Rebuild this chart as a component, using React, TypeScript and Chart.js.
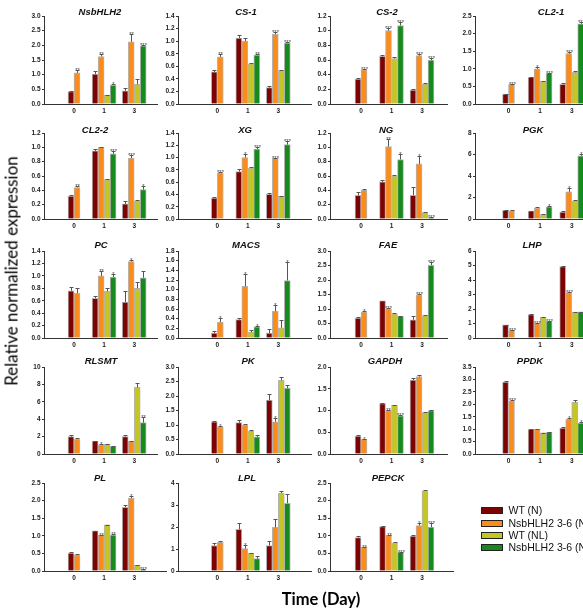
import React, { useEffect, useRef } from "react";
import { Chart, registerables } from "chart.js";

Chart.register(...registerables);

// ---------------- DATA ----------------
const DAYS = ["0", "1", "3"];
const GENES = [
  "NsbHLH2", "CS-1", "CS-2", "CL2-1",
  "CL2-2", "XG", "NG", "PGK",
  "PC", "MACS", "FAE", "LHP",
  "RLSMT", "PK", "GAPDH", "PPDK",
  "PL", "LPL", "PEPCK",
];
const SERIES = ["WT (N)", "NsbHLH2 3-6 (N)", "WT (NL)", "NsbHLH2 3-6 (NL)"];

const Y_MAX = [3, 1.4, 1.2, 2.5, 1.2, 1.4, 1.2, 8, 1.4, 1.8, 3, 6, 10, 3, 2, 3.5, 2.5, 4, 2.5];
const Y_STEP = [0.5, 0.2, 0.2, 0.5, 0.2, 0.2, 0.2, 2, 0.2, 0.2, 0.5, 1, 2, 0.5, 0.5, 0.5, 0.5, 1, 0.5];

// mean values per gene, days 0 / 1 / 3
const WT_N = [
  [0.42, 1.02, 0.45], [0.51, 1.05, 0.26], [0.34, 0.65, 0.19], [0.28, 0.76, 0.56],
  [0.32, 0.95, 0.21], [0.34, 0.77, 0.40], [0.33, 0.52, 0.33], [0.80, 0.74, 0.65],
  [0.76, 0.64, 0.58], [0.10, 0.38, 0.10], [0.69, 1.28, 0.63], [0.90, 1.62, 4.92],
  [2.0, 1.48, 2.0], [1.11, 1.08, 1.86], [0.41, 1.16, 1.70], [2.89, 0.99, 1.04],
  [0.51, 1.14, 1.81], [1.16, 1.89, 1.16], [0.95, 1.26, 0.99],
];
const NSB_N = [
  [1.06, 1.62, 2.12], [0.75, 1.00, 1.11], [0.47, 1.00, 0.66], [0.56, 1.00, 1.43],
  [0.44, 1.00, 0.85], [0.75, 1.00, 0.99], [0.40, 1.01, 0.77], [0.77, 1.02, 2.52],
  [0.72, 1.00, 1.23], [0.33, 1.07, 0.55], [0.89, 1.01, 1.49], [0.53, 1.02, 3.14],
  [1.70, 1.06, 1.45], [0.94, 1.00, 1.11], [0.34, 1.00, 1.78], [2.14, 0.99, 1.39],
  [0.46, 1.02, 2.07], [1.30, 1.02, 1.98], [0.68, 1.01, 1.29],
];
const WT_NL = [
  [null, 0.30, 0.67], [null, 0.64, 0.53], [null, 0.62, 0.27], [null, 0.65, 0.90],
  [null, 0.55, 0.25], [null, 0.83, 0.37], [null, 0.60, 0.09], [null, 0.40, 1.69],
  [null, 0.75, 0.80], [null, 0.12, 0.21], [null, 0.83, 0.77], [null, 1.43, 1.78],
  [null, 1.10, 7.65], [null, 0.78, 2.54], [null, 1.12, 0.95], [null, 0.85, 2.08],
  [null, 1.31, 0.16], [null, 0.82, 3.54], [null, 0.80, 2.28],
];
const NSB_NL = [
  [null, 0.64, 1.98], [null, 0.78, 0.97], [null, 1.07, 0.60], [null, 0.87, 2.28],
  [null, 0.91, 0.41], [null, 1.14, 1.21], [null, 0.83, 0.02], [null, 1.14, 5.88],
  [null, 0.98, 0.97], [null, 0.23, 1.19], [null, 0.75, 2.51], [null, 1.15, 1.80],
  [null, 0.87, 3.60], [null, 0.59, 2.27], [null, 0.88, 1.00], [null, 0.87, 1.24],
  [null, 1.02, 0.04], [null, 0.56, 3.08], [null, 0.54, 1.25],
];

// error bar (upper) sizes
const ERR_WT_N = [
  [0.02, 0.12, 0.10], [0.03, 0.04, 0.02], [0.01, 0.02, 0.01], [0.01, 0.01, 0.03],
  [0.01, 0.02, 0.04], [0.02, 0.04, 0.02], [0.05, 0.02, 0.11], [0.05, 0.03, 0.05],
  [0.06, 0.04, 0.18], [0.04, 0.04, 0.09], [0.03, 0.01, 0.12], [0.02, 0.05, 0.02],
  [0.15, 0.05, 0.2], [0.02, 0.08, 0.2], [0.02, 0.02, 0.05], [0.03, 0.02, 0.05],
  [0.03, 0.01, 0.07], [0.12, 0.3, 0.2], [0.05, 0.02, 0.04],
];
const ERR_NSB_N = [
  [0.1, 0.08, 0.28], [0.04, 0.05, 0.03], [0.01, 0.04, 0.02], [0.02, 0.06, 0.05],
  [0.02, 0.01, 0.05], [0.02, 0.06, 0.01], [0.02, 0.10, 0.11], [0.03, 0.12, 0.35],
  [0.09, 0.08, 0.02], [0.08, 0.26, 0.13], [0.05, 0.02, 0.03], [0.02, 0.02, 0.05],
  [0.1, 0.1, 0.05], [0.04, 0.02, 0.12], [0.01, 0.02, 0.03], [0.03, 0.03, 0.05],
  [0.01, 0.01, 0.07], [0.06, 0.17, 0.38], [0.01, 0.02, 0.06],
];
const ERR_WT_NL = [
  [0, 0.02, 0.17], [0, 0.02, 0.01], [0, 0.02, 0.01], [0, 0.01, 0.05],
  [0, 0.01, 0.01], [0, 0.01, 0.01], [0, 0.02, 0.01], [0, 0.03, 0.06],
  [0, 0.05, 0.1], [0, 0.04, 0.16], [0, 0.02, 0.01], [0, 0.03, 0.02],
  [0, 0.05, 0.5], [0, 0.04, 0.1], [0, 0.01, 0.01], [0, 0.01, 0.08],
  [0, 0.01, 0.01], [0, 0.02, 0.08], [0, 0.01, 0.03],
];
const ERR_NSB_NL = [
  [0, 0.05, 0.04], [0, 0.02, 0.01], [0, 0.05, 0.03], [0, 0.02, 0.05],
  [0, 0.04, 0.05], [0, 0.03, 0.06], [0, 0.08, 0.01], [0, 0.1, 0.2],
  [0, 0.05, 0.11], [0, 0.01, 0.39], [0, 0.02, 0.12], [0, 0.02, 0.02],
  [0, 0.03, 0.6], [0, 0.08, 0.12], [0, 0.01, 0.01], [0, 0.02, 0.05],
  [0, 0.02, 0.01], [0, 0.1, 0.4], [0, 0.01, 0.1],
];

// significance marks
const SIG_NSB_N = [
  ["**", "**", "**"], ["**", "", "***"], ["***", "***", "***"], ["***", "*", "***"],
  ["**", "", "***"], ["***", "*", "***"], ["", "**", "*"], ["", "", "*"],
  ["", "**", "*"], ["*", "*", "*"], ["*", "***", "***"], ["***", "***", "***"],
  ["", "*", ""], ["*", "", "*"], ["*", "**", ""], ["***", "", "*"],
  ["", "**", "*"], ["", "*", ""], ["**", "**", "*"],
];
const SIG_NSB_NL = [
  ["", "*", "***"], ["", "**", "***"], ["", "***", "***"], ["", "***", "***"],
  ["", "***", "*"], ["", "***", "***"], ["", "*", "***"], ["", "*", "*"],
  ["", "*", ""], ["", "*", "*"], ["", "", "***"], ["", "***", ""],
  ["", "", "**"], ["", "", ""], ["", "***", ""], ["", "", "*"],
  ["", "**", "***"], ["", "", ""], ["", "***", "***"],
];

const VALUES = [WT_N, NSB_N, WT_NL, NSB_NL];
const ERRORS = [ERR_WT_N, ERR_NSB_N, ERR_WT_NL, ERR_NSB_NL];
const SIGS = [null, SIG_NSB_N, null, SIG_NSB_NL];

// ---------------- STYLE / LAYOUT ----------------
const COLORS = ["#7d0303", "#fb8c1c", "#c5c623", "#178a1e"];
const BAR_BORDER = "#b4b4b4";
const AXIS_COLOR = "#333";
const TICK_COLOR = "#222";
const TICK_FONT = { family: "'Liberation Sans', Arial, sans-serif", size: 6.5, weight: "bold" as const };

const COL_AXIS = [44, 178, 330, 475];
const COL_CAT0 = [74, 217.3, 361, 508.5];
const COL_STEP = [30.1, 30.5, 30.5, 31.6];
const COL_RIGHT = [157, 311, 447, 620];
const ROW5_RIGHT = [166, 311, 453, 620];
const ROW_TOP = [16, 133, 251, 367, 483];
const ROW_BOTTOM = [104, 219, 338, 454, 571];
const TITLE_Y = [11.5, 130, 244.5, 361, 478];
const TITLE_X = [
  [100, 246, 387, 551],
  [95, 245, 386, 533],
  [101, 246, 388, 532],
  [101, 248, 385, 530],
  [100, 247, 388],
];

const YW = 28; // y-axis box width
const PT = 6; // top padding
const PR = 2; // right padding
const XH = 14; // x-axis box height

function makeErrorPlugin(g: number) {
  return {
    id: "errorBars" + g,
    afterDatasetsDraw(chart: any) {
      const ctx = chart.ctx as CanvasRenderingContext2D;
      const yScale = chart.scales.y;
      ctx.save();
      ctx.strokeStyle = "#555";
      ctx.fillStyle = "#444";
      ctx.lineWidth = 1;
      ctx.font = "6px 'Liberation Sans', Arial, sans-serif";
      ctx.textAlign = "center";
      ctx.textBaseline = "alphabetic";
      for (let s = 0; s < SERIES.length; s++) {
        const meta = chart.getDatasetMeta(s);
        meta.data.forEach((bar: any, i: number) => {
          const v = VALUES[s][g][i];
          if (v === null || v === undefined) return;
          const e = ERRORS[s][g][i] || 0;
          const x = Math.round(bar.x) + 0.5;
          const yv = yScale.getPixelForValue(v);
          const ye = Math.round(yScale.getPixelForValue(v + e)) + 0.5;
          if (e > 0) {
            ctx.beginPath();
            ctx.moveTo(x, yv);
            ctx.lineTo(x, ye);
            ctx.moveTo(x - 2, ye);
            ctx.lineTo(x + 2, ye);
            ctx.stroke();
          }
          const sigArr = SIGS[s];
          const sig = sigArr ? sigArr[g][i] : "";
          if (sig) ctx.fillText(sig, x, ye + 1.5);
        });
      }
      ctx.restore();
    },
  };
}

function Panel({ g }: { g: number }) {
  const ref = useRef<HTMLCanvasElement | null>(null);
  const row = Math.floor(g / 4);
  const col = g % 4;
  const L = COL_AXIS[col];
  const R = row === 4 ? ROW5_RIGHT[col] : COL_RIGHT[col];
  const T = ROW_TOP[row];
  const B = ROW_BOTTOM[row];
  const w = R - L + YW + PR;
  const h = B - T + PT + XH;
  const left = L - YW;
  const top = T - PT;

  useEffect(() => {
    if (!ref.current) return;
    const step = COL_STEP[col];
    const xMin = (L - COL_CAT0[col]) / step;
    const xMax = (R - COL_CAT0[col]) / step;
    const yMax = Y_MAX[g];
    const yStep = Y_STEP[g];
    const dec = yStep < 1 ? 1 : 0;
    const chart = new Chart(ref.current, {
      type: "bar",
      data: {
        datasets: SERIES.map((name, s) => ({
          label: name,
          data: DAYS.map((_, i) => ({ x: i, y: VALUES[s][g][i] })) as any,
          backgroundColor: COLORS[s],
          borderColor: BAR_BORDER,
          borderWidth: 1,
          borderSkipped: "start",
          barThickness: 6,
          skipNull: true,
        })),
      },
      options: {
        animation: false,
        responsive: false,
        maintainAspectRatio: false,
        events: [],
        layout: { padding: { top: PT, right: PR, left: 0, bottom: 0 } },
        plugins: {
          legend: { display: false },
          tooltip: { enabled: false },
          title: { display: false },
        },
        scales: {
          x: {
            type: "linear",
            min: xMin,
            max: xMax,
            offset: false,
            grid: { display: false, drawTicks: false },
            border: { display: true, color: AXIS_COLOR, width: 1 },
            ticks: {
              padding: 3,
              font: TICK_FONT,
              color: TICK_COLOR,
              autoSkip: false,
              maxRotation: 0,
              callback: (v: any) => DAYS[Math.round(Number(v))] ?? "",
            },
            afterBuildTicks: (s: any) => {
              s.ticks = DAYS.map((_, i) => ({ value: i }));
            },
            afterFit: (s: any) => {
              s.height = XH;
            },
          },
          y: {
            type: "linear",
            min: 0,
            max: yMax,
            grid: { display: true, drawOnChartArea: false, drawTicks: true, tickLength: 2, color: AXIS_COLOR },
            border: { display: true, color: AXIS_COLOR, width: 1 },
            ticks: {
              padding: 1.5,
              font: TICK_FONT,
              color: TICK_COLOR,
              autoSkip: false,
              callback: (v: any) => Number(v).toFixed(dec),
            },
            afterBuildTicks: (s: any) => {
              const t: { value: number }[] = [];
              for (let k = 0; k * yStep <= yMax + 1e-9; k++) t.push({ value: +(k * yStep).toFixed(4) });
              s.ticks = t;
            },
            afterFit: (s: any) => {
              s.width = YW;
            },
          },
        },
      } as any,
      plugins: [makeErrorPlugin(g)],
    });
    return () => chart.destroy();
  }, [g]);

  return (
    <>
      <canvas
        ref={ref}
        width={w}
        height={h}
        style={{ position: "absolute", left, top, width: w, height: h }}
      />
      <div
        style={{
          position: "absolute",
          left: TITLE_X[row][col],
          top: TITLE_Y[row],
          transform: "translate(-50%, -50%)",
          font: "italic bold 9.5px 'Liberation Sans', Arial, sans-serif",
          color: "#111",
          whiteSpace: "nowrap",
          lineHeight: 1,
        }}
      >
        {GENES[g]}
      </div>
    </>
  );
}

const LEGEND_Y = [510.2, 522.8, 535.2, 547.3];

export default function App() {
  return (
    <div
      style={{
        position: "fixed",
        left: 0,
        top: 0,
        width: 583,
        height: 616,
        overflow: "hidden",
        background: "#fff",
      }}
    >
      {GENES.map((_, g) => (
        <Panel key={g} g={g} />
      ))}
      <div
        style={{
          position: "absolute",
          left: 11,
          top: 271,
          transform: "translate(-50%, -50%) rotate(-90deg)",
          font: "17px Lato, 'Open Sans', sans-serif",
          color: "#000",
          whiteSpace: "nowrap",
          lineHeight: 1,
        }}
      >
        Relative normalized expression
      </div>
      <div
        style={{
          position: "absolute",
          left: 321,
          top: 599,
          transform: "translate(-50%, -50%)",
          font: "bold 16.5px Lato, 'Open Sans', sans-serif",
          color: "#000",
          whiteSpace: "nowrap",
          lineHeight: 1,
        }}
      >
        Time (Day)
      </div>
      {SERIES.map((name, s) => (
        <React.Fragment key={name}>
          <div
            style={{
              position: "absolute",
              left: 481,
              top: LEGEND_Y[s] - 3,
              width: 20,
              height: 5,
              background: COLORS[s],
              border: "1px solid #222",
            }}
          />
          <div
            style={{
              position: "absolute",
              left: 508.5,
              top: LEGEND_Y[s],
              transform: "translateY(-50%)",
              font: "10.5px 'Liberation Sans', Arial, sans-serif",
              color: "#111",
              whiteSpace: "nowrap",
              lineHeight: 1,
            }}
          >
            {name}
          </div>
        </React.Fragment>
      ))}
    </div>
  );
}
